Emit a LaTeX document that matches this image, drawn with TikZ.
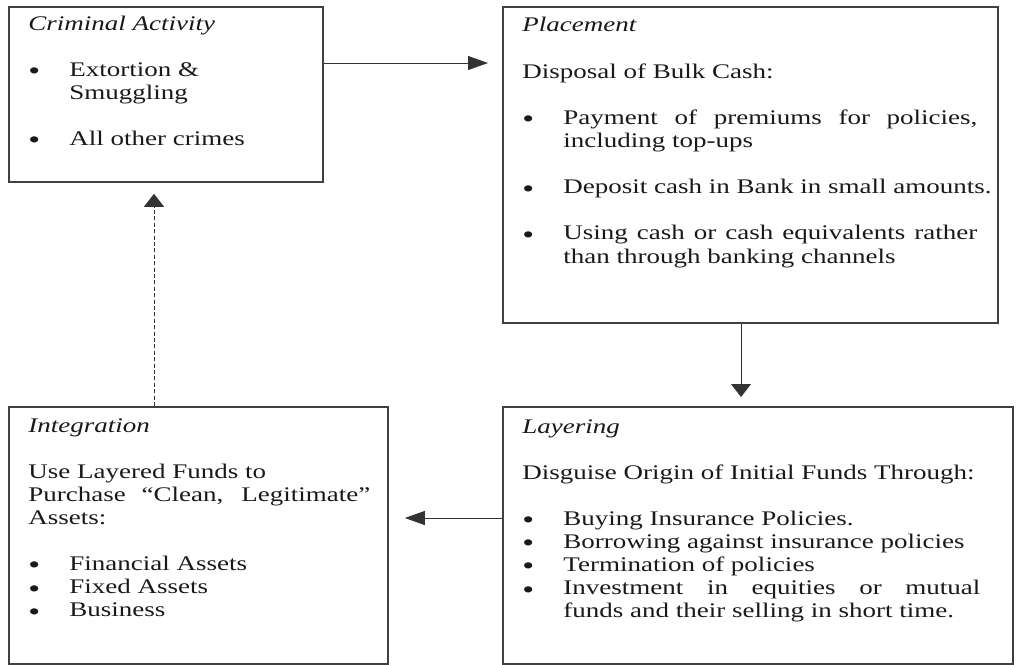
\documentclass[tikz,border=0pt]{standalone}
\usepackage{fontspec}
\setmainfont{Liberation Serif}
\usepackage{graphicx}
\usetikzlibrary{arrows.meta}
\newcommand{\mlGap}{\par\vspace{\baselineskip}}
\newcommand{\mlItem}[1]{\par\noindent\hangindent=20.5pt\hangafter=1\makebox[20.5pt][l]{\raisebox{-0.35ex}{\scalebox{1.25}{\textbullet}}}#1}
\newcommand{\mlBody}[2]{\scalebox{1}[0.77]{\parbox[t]{#1}{\fontsize{13.5}{15}\selectfont\parindent=0pt\parskip=0pt #2}}}

\begin{document}
\begin{tikzpicture}[x=0.5pt,y=-0.5pt,
  stage/.style={draw=black!75, line width=0.9pt, inner sep=0pt, anchor=north west},
  stagetext/.style={anchor=base west, inner sep=0pt, text=black!90},
  flow/.style={draw=black!80, line width=0.5pt},
  hflow/.style={flow, -{Triangle[length=10pt,width=7pt]}},
  vflow/.style={flow, -{Triangle[length=6.5pt,width=10pt]}}]
\useasboundingbox (0,0) rectangle (1016,664);
% the four stages
\node[stage, minimum width=157pt, minimum height=87.5pt] (crime) at (8,6) {};
\node[stage, minimum width=247.5pt, minimum height=158pt] (place) at (502,6) {};
\node[stage, minimum width=189.5pt, minimum height=128.5pt] (integ) at (8,406) {};
\node[stage, minimum width=255pt, minimum height=128.5pt] (layer) at (502,406) {};
% texts
\node[stagetext] (crimeText) at (28,30) {\mlBody{142pt}{%
  {\itshape Criminal Activity}\mlGap
  \mlItem{Extortion \&\\Smuggling}\mlGap
  \mlItem{All other crimes}}};
\node[stagetext] (placeText) at (522,32) {\mlBody{227.5pt}{%
  {\itshape Placement}\mlGap
  Disposal of Bulk Cash:\mlGap
  \mlItem{Payment of premiums for policies,\linebreak including top-ups}\mlGap
  \mlItem{\mbox{Deposit cash in Bank in small amounts.}}\mlGap
  \mlItem{Using cash or cash equivalents rather\linebreak than through banking channels}}};
\node[stagetext] (integText) at (28,432) {\mlBody{171pt}{%
  {\itshape Integration}\mlGap
  Use Layered Funds to\\Purchase “Clean, Legitimate”\linebreak Assets:\mlGap
  \mlItem{Financial Assets}
  \mlItem{Fixed Assets}
  \mlItem{Business}}};
\node[stagetext] (layerText) at (522,433) {\mlBody{229pt}{%
  {\itshape Layering}\mlGap
  Disguise Origin of Initial Funds Through:\mlGap
  \mlItem{Buying Insurance Policies.}
  \mlItem{Borrowing against insurance policies}
  \mlItem{Termination of policies}
  \mlItem{Investment in equities or mutual\linebreak funds and their selling in short time.}}};
% flow between stages
\draw[hflow, shorten >=7pt] (crime.east |- 0,63) -- (place.west |- 0,63);
\draw[vflow, shorten >=4.5pt] (place.south -| 741,0) -- (layer.north -| 741,0);
\draw[hflow, shorten >=8pt] (layer.west |- 0,518) -- (integ.east |- 0,518);
\draw[vflow, dash pattern=on 2pt off 1.2pt, shorten >=5.5pt] (integ.north -| 154,0) -- (crime.south -| 154,0);
\end{tikzpicture}
\end{document}
